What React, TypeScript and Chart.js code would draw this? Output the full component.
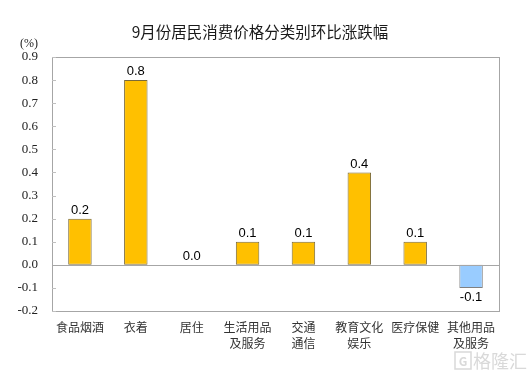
import React, { useEffect, useRef } from "react";
import { Chart, registerables } from "chart.js";

Chart.register(...registerables);

const titleText = "9月份居民消费价格分类别环比涨跌幅";
const unitText = "(%)";
const categories: string[][] = [
  ["食品烟酒"],
  ["衣着"],
  ["居住"],
  ["生活用品", "及服务"],
  ["交通", "通信"],
  ["教育文化", "娱乐"],
  ["医疗保健"],
  ["其他用品", "及服务"],
];
const values: number[] = [0.2, 0.8, 0.0, 0.1, 0.1, 0.4, 0.1, -0.1];
const yMin = -0.2;
const yMax = 0.9;
const yStep = 0.1;
const watermark = "格隆汇";

const posFill = "#FFC000";
const posBorder = "#7a6a3a";
const negFill = "#99CCFF";
const negBorder = "#808080";

const decorPlugin = {
  id: "decor",
  afterDatasetsDraw(chart: any) {
    const { ctx, chartArea } = chart;
    const { left, right, top, bottom } = chartArea;
    const yScale = chart.scales.y;
    ctx.save();
    ctx.strokeStyle = "#a6a6a6";
    ctx.lineWidth = 1;
    ctx.strokeRect(Math.round(left) + 0.5, Math.round(top) + 0.5, Math.round(right - left), Math.round(bottom - top));
    ctx.strokeStyle = "#bfbfbf";
    for (let v = yMin; v <= yMax + 1e-9; v += yStep) {
      const y = Math.round(yScale.getPixelForValue(v)) + 0.5;
      ctx.beginPath();
      ctx.moveTo(left, y);
      ctx.lineTo(left + 4, y);
      ctx.stroke();
    }
    const y0 = Math.round(yScale.getPixelForValue(0)) + 0.5;
    ctx.strokeStyle = "#a6a6a6";
    ctx.beginPath();
    ctx.moveTo(left, y0);
    ctx.lineTo(right, y0);
    ctx.stroke();
    const meta = chart.getDatasetMeta(0);
    ctx.fillStyle = "#000";
    ctx.font = '13px "Liberation Sans", Arial, sans-serif';
    ctx.textAlign = "center";
    meta.data.forEach((bar: any, i: number) => {
      const v = values[i];
      const label = v.toFixed(1);
      if (v >= 0) {
        ctx.textBaseline = "bottom";
        ctx.fillText(label, bar.x, bar.y - 2);
      } else {
        ctx.textBaseline = "top";
        ctx.fillText(label, bar.x, bar.y + 3);
      }
    });
    ctx.fillStyle = "#1a1a1a";
    ctx.font = '15.5px "Noto Sans CJK SC", sans-serif';
    ctx.textBaseline = "middle";
    ctx.textAlign = "center";
    ctx.fillText(titleText, 260, 32);
    ctx.font = '12px "Liberation Serif", "Times New Roman", serif';
    ctx.textAlign = "left";
    ctx.fillStyle = "#222";
    ctx.fillText(unitText, 20, 44);
    ctx.fillStyle = "#d9d9d9";
    ctx.strokeStyle = "#d9d9d9";
    ctx.lineWidth = 1.5;
    ctx.strokeRect(455, 352, 16, 17);
    ctx.font = 'bold 12px "Noto Sans CJK SC", sans-serif';
    ctx.textAlign = "center";
    ctx.fillText("G", 463, 361);
    ctx.font = '18px "Noto Sans CJK SC", sans-serif';
    ctx.textAlign = "left";
    ctx.fillText(watermark, 473, 361);
    ctx.restore();
  },
};

export default function App() {
  const ref = useRef<HTMLCanvasElement>(null);
  useEffect(() => {
    document.body.style.margin = "0";
    const canvas = ref.current!;
    const chart = new Chart(canvas, {
      type: "bar",
      data: {
        labels: categories,
        datasets: [
          {
            data: values,
            backgroundColor: values.map((v) => (v < 0 ? negFill : posFill)),
            borderColor: values.map((v) => (v < 0 ? negBorder : posBorder)),
            borderWidth: 1,
            borderSkipped: false,
            categoryPercentage: 1,
            barPercentage: 0.42,
          },
        ],
      },
      options: {
        animation: false,
        responsive: false,
        maintainAspectRatio: false,
        layout: { padding: { top: 57, right: 30, left: 0, bottom: 0 } },
        plugins: {
          legend: { display: false },
          tooltip: { enabled: false },
          title: { display: false },
        },
        scales: {
          x: {
            grid: { display: false, drawTicks: false },
            border: { display: false },
            ticks: {
              color: "#333",
              font: { family: '"Noto Sans CJK SC", sans-serif', size: 12, lineHeight: 1.3 },
              padding: 9,
              maxRotation: 0,
              autoSkip: false,
            },
            afterFit(scale: any) {
              scale.height = 67;
            },
          },
          y: {
            min: yMin,
            max: yMax,
            grid: { display: false, drawTicks: false },
            border: { display: false },
            ticks: {
              stepSize: yStep,
              color: "#222",
              padding: 14,
              font: { family: '"Liberation Serif", "Times New Roman", serif', size: 13 },
              callback: (v: any) => Number(v).toFixed(1),
            },
            afterFit(scale: any) {
              scale.width = 52;
            },
          },
        },
      },
      plugins: [decorPlugin],
    });
    return () => chart.destroy();
  }, []);
  return <canvas ref={ref} width={529} height={378} style={{ display: "block" }} />;
}
